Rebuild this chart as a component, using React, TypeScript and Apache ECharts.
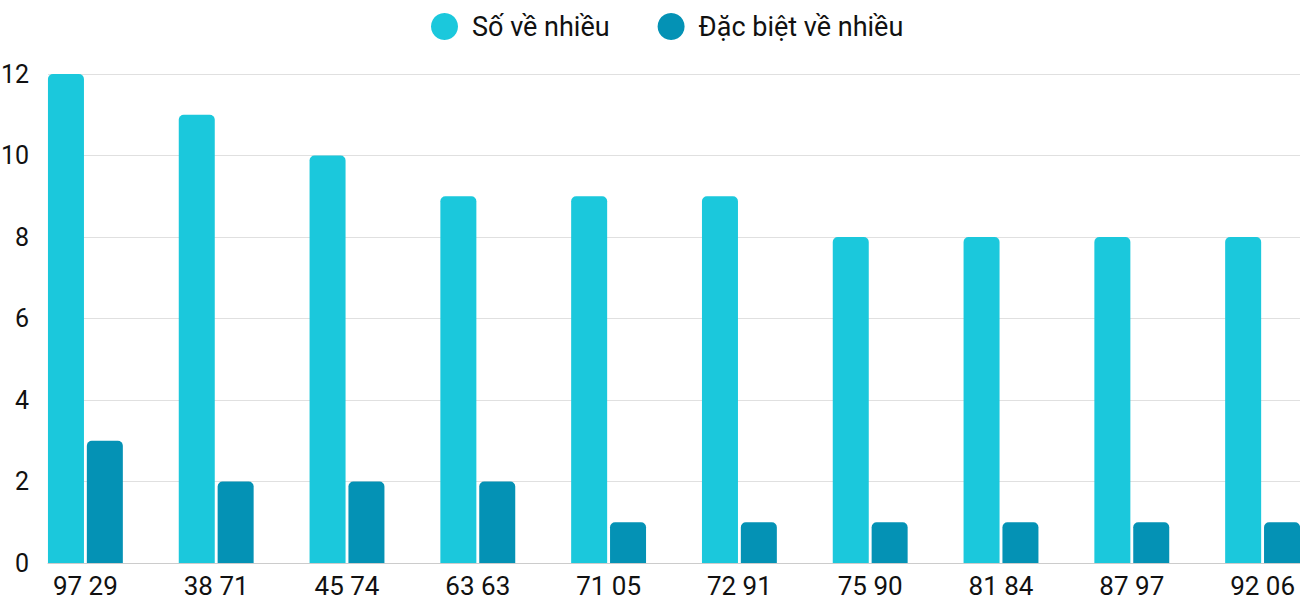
import React, { useEffect, useRef } from "react";
import * as echarts from "echarts";

const categories = ["97 29", "38 71", "45 74", "63 63", "71 05", "72 91", "75 90", "81 84", "87 97", "92 06"];
const soVeNhieu = [12, 11, 10, 9, 9, 9, 8, 8, 8, 8];
const dacBietVeNhieu = [3, 2, 2, 2, 1, 1, 1, 1, 1, 1];
const seriesNames = ["Số về nhiều", "Đặc biệt về nhiều"];
const colors = ["#1BC8DC", "#0492B5"];

const FONT = "Roboto";

const App: React.FC = () => {
  const chartRef = useRef<HTMLDivElement>(null);

  useEffect(() => {
    document.body.style.margin = "0";
    if (!chartRef.current) return;
    const chart = echarts.init(chartRef.current, undefined, { renderer: "svg" });

    const yBase = { type: "value", min: 0, max: 12, interval: 2 };

    const option: any = {
      animation: false,
      color: colors,
      textStyle: { fontFamily: FONT },
      legend: {
        left: 426,
        top: 8,
        icon: "circle",
        itemWidth: 45,
        itemHeight: 27,
        itemGap: 48,
        textStyle: { fontFamily: FONT, fontSize: 27, color: "#111" },
        data: seriesNames,
      },
      grid: [
        { left: 48, right: 0, top: 74, bottom: 37, outerBoundsMode: "none" },
        // bar grid is a little wider so groups sit like the reference
        { left: 20, width: 1308, top: 74, bottom: 37, outerBoundsMode: "none" },
      ],
      xAxis: [
        {
          type: "category",
          gridIndex: 0,
          data: categories,
          axisLine: { show: true, lineStyle: { color: "#ccc", width: 1 } },
          axisTick: { show: false },
          axisLabel: { show: false },
        },
        {
          type: "category",
          gridIndex: 1,
          data: categories,
          axisLine: { show: false },
          axisTick: { show: false },
          axisLabel: { fontFamily: FONT, fontSize: 26, color: "#111", margin: 10 },
        },
      ],
      yAxis: [
        {
          ...yBase,
          gridIndex: 0,
          axisLine: { show: false },
          axisTick: { show: false },
          axisLabel: { fontFamily: FONT, fontSize: 25, color: "#111", margin: 19 },
          splitLine: { lineStyle: { color: "#e0e0e0", width: 1 } },
        },
        {
          ...yBase,
          gridIndex: 1,
          show: false,
          splitLine: { show: false },
        },
      ],
      series: [
        {
          name: seriesNames[0],
          type: "bar",
          xAxisIndex: 1,
          yAxisIndex: 1,
          data: soVeNhieu,
          barWidth: 36,
          barGap: "8%",
          itemStyle: { color: colors[0], borderRadius: [5, 5, 0, 0] },
        },
        {
          name: seriesNames[1],
          type: "bar",
          xAxisIndex: 1,
          yAxisIndex: 1,
          data: dacBietVeNhieu,
          barWidth: 36,
          barGap: "8%",
          itemStyle: { color: colors[1], borderRadius: [5, 5, 0, 0] },
        },
      ],
    };

    chart.setOption(option);

    const handleResize = () => chart.resize();
    window.addEventListener("resize", handleResize);
    return () => {
      window.removeEventListener("resize", handleResize);
      chart.dispose();
    };
  }, []);

  return <div ref={chartRef} style={{ width: "1300px", height: "600px" }} />;
};

export default App;
